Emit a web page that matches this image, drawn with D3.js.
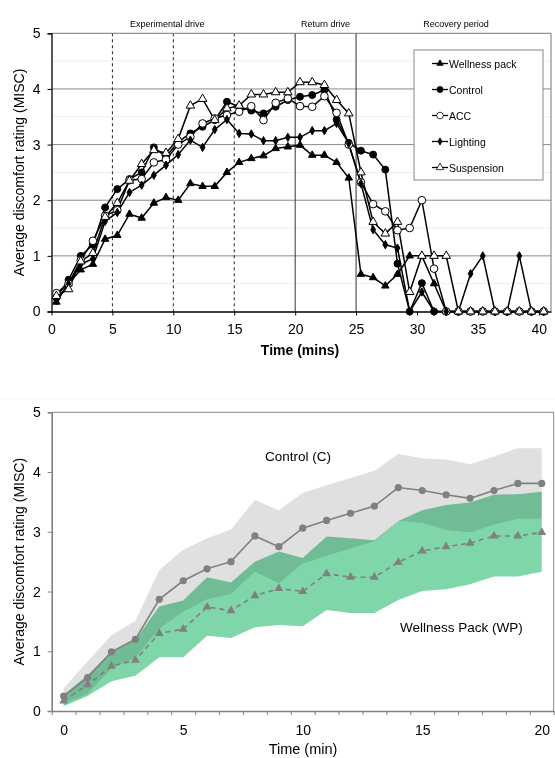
<!DOCTYPE html>
<html>
<head>
<meta charset="utf-8">
<script src="https://cdn.jsdelivr.net/npm/d3@7"></script>
<style>
  body { margin: 0; background: #fff; }
  text { font-family: Arial, "Liberation Sans", sans-serif; fill: #000; }
</style>
</head>
<body>
<div id="graf"></div>
<script>
// I. Datos (gráfica superior: 41 muestras por condición)
const tiempos = [0.4, 1.4, 2.4, 3.4, 4.4, 5.4, 6.4, 7.4, 8.4, 9.4, 10.4, 11.4, 12.4, 13.4, 14.4,
  15.4, 16.4, 17.4, 18.4, 19.4, 20.4, 21.4, 22.4, 23.4, 24.4, 25.4, 26.4, 27.4, 28.4, 29.4,
  30.4, 31.4, 32.4, 33.4, 34.4, 35.4, 36.4, 37.4, 38.4, 39.4, 40.4]

const wellnessPack = [0.17, 0.5, 0.75, 0.85, 1.3, 1.37, 1.75, 1.68, 1.95, 2.05, 2.0, 2.3, 2.25, 2.25, 2.5,
  2.68, 2.75, 2.8, 2.93, 2.96, 2.99, 2.81, 2.81, 2.68, 2.4, 0.67, 0.61, 0.46, 0.67, 1.0,
  1.0, 0.5, 0, 0, 0, 0, 0, 0, 0, 0, 0]
const control = [0.25, 0.57, 1.0, 1.2, 1.87, 2.2, 2.38, 2.5, 2.95, 2.78, 3.05, 3.2, 3.32, 3.44, 3.77,
  3.68, 3.61, 3.56, 3.68, 3.8, 3.86, 3.89, 3.98, 3.45, 3.03, 2.89, 2.82, 2.55, 0.86, 0,
  0.51, 0, 0, 0, 0, 0, 0, 0, 0, 0, 0]
const acc = [0.33, 0.5, 0.92, 1.27, 1.72, 1.82, 2.36, 2.38, 2.68, 2.73, 3.0, 3.14, 3.38, 3.47, 3.53,
  3.59, 3.69, 3.44, 3.75, 3.83, 3.69, 3.68, 3.87, 3.57, 3.0, 2.32, 1.93, 1.8, 1.46, 1.5,
  2.0, 0.77, 0, 0, 0, 0, 0, 0, 0, 0, 0]
const lighting = [0.2, 0.5, 0.85, 0.95, 1.62, 1.78, 2.14, 2.27, 2.45, 2.63, 2.82, 3.08, 2.95, 3.27, 3.45,
  3.2, 3.19, 3.07, 3.07, 3.13, 3.13, 3.25, 3.25, 3.38, 3.02, 2.3, 1.47, 1.2, 1.14, 0,
  0.35, 0, 0, 0, 0.68, 1.0, 0, 0, 1.0, 0, 0]
const suspension = [0.28, 0.4, 0.9, 1.05, 1.7, 1.95, 2.35, 2.65, 2.9, 2.85, 3.1, 3.7, 3.82, 3.44, 3.65,
  3.7, 3.9, 3.9, 3.94, 3.94, 4.12, 4.12, 4.07, 3.8, 3.56, 2.5, 1.61, 1.4, 1.61, 0.35,
  1.0, 1.0, 1.0, 0, 0, 0, 0, 0, 0, 0, 0]

const fases = ['Experimental drive', 'Return drive', 'Recovery period']
const faseCentros = [9.5, 22.5, 33.2]
const lineasDiscontinuas = [5, 10, 15]
const lineasContinuas = [20, 25]
const ticksTop = [0, 5, 10, 15, 20, 25, 30, 35, 40]
const ticksY = [0, 1, 2, 3, 4, 5]

// gráfica inferior: primeros 20 minutos con banda de error
const minutos = [0, 1, 2, 3, 4, 5, 6, 7, 8, 9, 10, 11, 12, 13, 14, 15, 16, 17, 18, 19, 20]
const ctrlMedia = [0.25, 0.56, 0.99, 1.2, 1.87, 2.18, 2.38, 2.5, 2.93, 2.75, 3.06, 3.19, 3.31, 3.43, 3.74,
  3.69, 3.62, 3.56, 3.69, 3.81, 3.81]
const ctrlSup = [0.38, 0.83, 1.27, 1.51, 2.36, 2.7, 2.89, 3.04, 3.53, 3.36, 3.65, 3.78, 3.9, 4.02, 4.3,
  4.23, 4.21, 4.13, 4.26, 4.4, 4.4]
const ctrlInf = [0.12, 0.29, 0.71, 0.89, 1.38, 1.66, 1.87, 1.96, 2.33, 2.14, 2.47, 2.6, 2.72, 2.84, 3.18,
  3.15, 3.03, 2.99, 3.12, 3.22, 3.22]
const wpMedia = [0.17, 0.44, 0.75, 0.85, 1.3, 1.37, 1.74, 1.68, 1.93, 2.05, 2.0, 2.3, 2.24, 2.24, 2.49,
  2.68, 2.75, 2.81, 2.93, 2.93, 2.99]
const wpSup = [0.27, 0.6, 0.99, 1.19, 1.75, 1.85, 2.24, 2.15, 2.5, 2.67, 2.56, 2.92, 2.89, 2.86, 3.18,
  3.36, 3.45, 3.49, 3.62, 3.63, 3.67]
const wpInf = [0.08, 0.25, 0.5, 0.59, 0.9, 0.9, 1.26, 1.22, 1.4, 1.44, 1.42, 1.69, 1.64, 1.64, 1.86,
  2.01, 2.04, 2.12, 2.25, 2.25, 2.33]
const ticksBottom = [0, 5, 10, 15, 20]

// II. Configuración
const ancho_total = 555
const alto_total = 758

const svg = d3.select('#graf').append('svg')
  .attr('width', ancho_total)
  .attr('height', alto_total)

// ---------- Gráfica superior ----------
const x1 = d3.scaleLinear().domain([0, 41]).range([51.5, 551])
const y1 = d3.scaleLinear().domain([0, 5]).range([311.5, 33.3])

const gSup = svg.append('g')

// rejilla menor y mayor
gSup.selectAll('.menor')
  .data([0.5, 1.5, 2.5, 3.5, 4.5])
  .enter().append('line')
    .attr('x1', x1(0)).attr('x2', x1(41))
    .attr('y1', d => y1(d)).attr('y2', d => y1(d))
    .style('stroke', '#eeeeee')
gSup.selectAll('.mayor')
  .data([1, 2, 3, 4])
  .enter().append('line')
    .attr('x1', x1(0)).attr('x2', x1(41))
    .attr('y1', d => y1(d)).attr('y2', d => y1(d))
    .style('stroke', '#8a8a8a')

gSup.selectAll('.disc')
  .data(lineasDiscontinuas)
  .enter().append('line')
    .attr('x1', d => x1(d)).attr('x2', d => x1(d))
    .attr('y1', y1(5)).attr('y2', y1(0))
    .style('stroke', '#222').style('stroke-dasharray', '3,3')
gSup.selectAll('.cont')
  .data(lineasContinuas)
  .enter().append('line')
    .attr('x1', d => x1(d)).attr('x2', d => x1(d))
    .attr('y1', y1(5)).attr('y2', y1(0))
    .style('stroke', '#333')

// borde del área
gSup.append('path')
  .attr('d', `M${x1(0)},${y1(5)}H${x1(41)}V${y1(0)}`)
  .style('fill', 'none').style('stroke', '#777')

// ejes
const ejeY1 = gSup.append('g')
  .attr('transform', `translate(${x1(0)},0)`)
  .call(d3.axisLeft(y1).tickValues(ticksY).tickSize(4).tickPadding(7).tickFormat(d3.format('d')))
const ejeX1 = gSup.append('g')
  .attr('transform', `translate(0,${y1(0)})`)
  .call(d3.axisBottom(x1).tickValues(ticksTop).tickSize(4).tickPadding(9).tickSizeOuter(0))
;[ejeY1, ejeX1].forEach(e => {
  e.select('.domain').style('stroke', '#000').style('stroke-width', 1.3)
  e.selectAll('.tick line').style('stroke', '#000')
  e.selectAll('text').style('font-size', '14px').style('font-family', 'Arial, "Liberation Sans", sans-serif')
})

gSup.selectAll('.fase')
  .data(fases)
  .enter().append('text')
    .attr('x', (d, i) => x1(faseCentros[i]))
    .attr('y', 27)
    .attr('text-anchor', 'middle')
    .style('font-size', '9px')
    .text(d => d)

gSup.append('text')
  .attr('x', 300).attr('y', 355)
  .attr('text-anchor', 'middle')
  .style('font-size', '14px').style('font-weight', 'bold')
  .text('Time (mins)')
gSup.append('text')
  .attr('transform', `translate(24,${(y1(0) + y1(5)) / 2}) rotate(-90)`)
  .attr('text-anchor', 'middle')
  .style('font-size', '14px')
  .text('Average discomfort rating (MISC)')

// series
const series = [
  { nombre: 'Wellness pack', valores: wellnessPack, forma: d3.symbolTriangle, tam: 24, relleno: '#000' },
  { nombre: 'Control', valores: control, forma: d3.symbolCircle, tam: 38, relleno: '#000' },
  { nombre: 'ACC', valores: acc, forma: d3.symbolCircle, tam: 46, relleno: '#fff' },
  { nombre: 'Lighting', valores: lighting, forma: d3.symbolDiamond, tam: 20, relleno: '#000' },
  { nombre: 'Suspension', valores: suspension, forma: d3.symbolTriangle, tam: 32, relleno: '#fff' }
]

const linea1 = d3.line()
  .x((d, i) => x1(tiempos[i]))
  .y(d => y1(d))

series.forEach(s => {
  gSup.append('path')
    .datum(s.valores)
    .attr('d', linea1)
    .style('fill', 'none').style('stroke', '#000').style('stroke-width', 1.5)
})
series.forEach(s => {
  gSup.selectAll(null)
    .data(s.valores)
    .enter().append('path')
      .attr('transform', (d, i) => `translate(${x1(tiempos[i])},${y1(d)})`)
      .attr('d', d3.symbol().type(s.forma).size(s.tam))
      .style('fill', s.relleno).style('stroke', '#000').style('stroke-width', 1)
})

// leyenda
const ley = gSup.append('g').attr('transform', 'translate(414,50)')
ley.append('rect')
  .attr('width', 129).attr('height', 130)
  .style('fill', '#fff').style('stroke', '#888')
series.forEach((s, i) => {
  const yy = 13.5 + i * 26
  ley.append('line')
    .attr('x1', 18).attr('x2', 34).attr('y1', yy).attr('y2', yy)
    .style('stroke', '#000').style('stroke-width', 1.3)
  ley.append('path')
    .attr('transform', `translate(26,${yy})`)
    .attr('d', d3.symbol().type(s.forma).size(s.tam * 0.75))
    .style('fill', s.relleno).style('stroke', '#000').style('stroke-width', 0.8)
  ley.append('text')
    .attr('x', 35).attr('y', yy + 4)
    .style('font-size', '10.5px')
    .text(s.nombre)
})

// separador tenue
svg.append('line')
  .attr('x1', 0).attr('x2', ancho_total).attr('y1', 399).attr('y2', 399)
  .style('stroke', '#f3f3f3')

// ---------- Gráfica inferior ----------
const x2 = d3.scalePoint().domain(minutos).range([51.7, 553.7]).padding(0.5)
const x2lin = d3.scaleLinear().domain([-0.5, 20.5]).range([51.7, 553.7])
const y2 = d3.scaleLinear().domain([0, 5]).range([711, 412.3])

const gInf = svg.append('g')

const area = (sup, inf) => d3.area()
  .x((d, i) => x2(minutos[i]))
  .y0((d, i) => y2(inf[i]))
  .y1((d, i) => y2(sup[i]))

gInf.append('path')
  .datum(minutos)
  .attr('d', area(ctrlSup, ctrlInf))
  .style('fill', '#e0e0e0')
gInf.append('path')
  .datum(minutos)
  .attr('d', area(wpSup, wpInf))
  .style('fill', '#7fd6a9')
  .style('mix-blend-mode', 'multiply')

gInf.append('path')
  .attr('d', `M${x2lin(-0.5)},${y2(5)}H${x2lin(20.5)}V${y2(0)}`)
  .style('fill', 'none').style('stroke', '#888')

const ejeY2 = gInf.append('g')
  .attr('transform', `translate(${x2lin(-0.5)},0)`)
  .call(d3.axisLeft(y2).tickValues(ticksY).tickSize(4).tickPadding(7).tickFormat(d3.format('d')))
const ejeX2 = gInf.append('g')
  .attr('transform', `translate(0,${y2(0)})`)
  .call(d3.axisBottom(x2lin).tickValues(d3.range(-0.5, 21, 1)).tickSize(4).tickFormat('').tickSizeOuter(0))
const etiqX2 = gInf.append('g')
  .attr('transform', `translate(0,${y2(0)})`)
  .call(d3.axisBottom(x2).tickValues(ticksBottom).tickSize(0).tickPadding(14))
etiqX2.select('.domain').remove()
;[ejeY2, ejeX2].forEach(e => {
  e.select('.domain').style('stroke', '#808080').style('stroke-width', 1.6)
  e.selectAll('.tick line').style('stroke', '#808080')
})
;[ejeY2, etiqX2].forEach(e => {
  e.selectAll('text').style('font-size', '14px').style('font-family', 'Arial, "Liberation Sans", sans-serif')
})

const linea2 = vals => d3.line()
  .x((d, i) => x2(minutos[i]))
  .y(d => y2(d))(vals)

gInf.append('path')
  .attr('d', linea2(ctrlMedia))
  .style('fill', 'none').style('stroke', '#808080').style('stroke-width', 1.6)
gInf.append('path')
  .attr('d', linea2(wpMedia))
  .style('fill', 'none').style('stroke', '#808080').style('stroke-width', 1.6)
  .style('stroke-dasharray', '5,4')

gInf.selectAll('.c')
  .data(ctrlMedia)
  .enter().append('circle')
    .attr('cx', (d, i) => x2(minutos[i]))
    .attr('cy', d => y2(d))
    .attr('r', 3.6)
    .style('fill', '#808080')
gInf.selectAll('.t')
  .data(wpMedia)
  .enter().append('path')
    .attr('transform', (d, i) => `translate(${x2(minutos[i])},${y2(d)})`)
    .attr('d', d3.symbol().type(d3.symbolTriangle).size(34))
    .style('fill', '#808080')

gInf.append('text')
  .attr('x', 265).attr('y', 461)
  .style('font-size', '13.5px')
  .text('Control (C)')
gInf.append('text')
  .attr('x', 400).attr('y', 632)
  .style('font-size', '13.5px')
  .text('Wellness Pack (WP)')

gInf.append('text')
  .attr('x', 303).attr('y', 754)
  .attr('text-anchor', 'middle')
  .style('font-size', '14.5px')
  .text('Time (min)')
gInf.append('text')
  .attr('transform', `translate(24,${(y2(0) + y2(5)) / 2}) rotate(-90)`)
  .attr('text-anchor', 'middle')
  .style('font-size', '14px')
  .text('Average discomfort rating (MISC)')
</script>
</body>
</html>
